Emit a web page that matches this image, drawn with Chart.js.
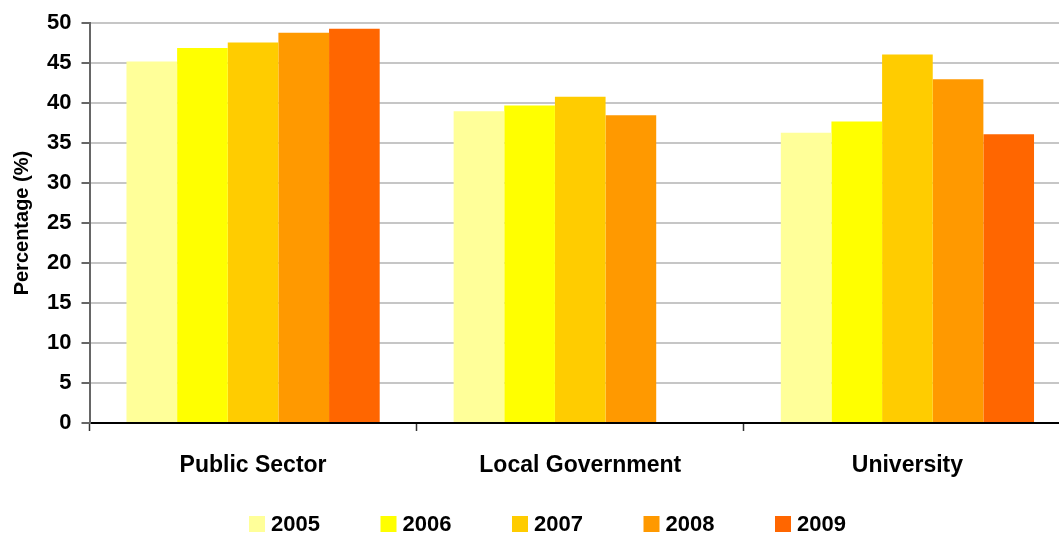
<!DOCTYPE html>
<html>
<head>
<meta charset="utf-8">
<script src="https://cdn.jsdelivr.net/npm/chart.js@4"></script>
<style>
  html, body { margin: 0; padding: 0; background: #fff; overflow: hidden; }
  #wrap { width: 1059px; height: 533px; overflow: hidden; }
</style>
</head>
<body>
<div id="wrap"><canvas id="chart" width="1071" height="533"></canvas></div>
<script>
// data
const categories = ["Public Sector", "Local Government", "University"];
const years = ["2005", "2006", "2007", "2008", "2009"];
const values2005 = [45.2, 39.0, 36.3];
const values2006 = [46.9, 39.7, 37.7];
const values2007 = [47.6, 40.8, 46.1];
const values2008 = [48.8, 38.5, 43.0];
const values2009 = [49.3, null, 36.1];
const yTicks = [0, 5, 10, 15, 20, 25, 30, 35, 40, 45, 50];

const colors = ["#FFFF99", "#FFFF00", "#FFCC00", "#FF9900", "#FF6600"];
const series = [values2005, values2006, values2007, values2008, values2009];
const FONT = "'Liberation Sans', Arial, sans-serif";

/* legend drawn under the axis labels */
const bottomLegend = {
    id: "bottomLegend",
    afterDraw(chart) {
        const ctx = chart.ctx;
        const startX = 249, step = 131.5, y = 524;
        ctx.save();
        ctx.font = "bold 22px " + FONT;
        ctx.textBaseline = "middle";
        ctx.textAlign = "left";
        chart.data.datasets.forEach((ds, i) => {
            const x = startX + i * step;
            ctx.fillStyle = ds.backgroundColor;
            ctx.fillRect(x, y - 8, 16, 16);
            ctx.fillStyle = "#000";
            ctx.fillText(ds.label, x + 22, y + 1);
        });
        ctx.restore();
    }
};

const ctx = document.getElementById("chart").getContext("2d");
new Chart(ctx, {
    type: "bar",
    data: {
        labels: categories,
        datasets: years.map((y, i) => ({
            label: y,
            data: series[i],
            backgroundColor: colors[i],
            borderWidth: 0,
            categoryPercentage: 0.774,
            barPercentage: 1
        }))
    },
    options: {
        responsive: false,
        animation: false,
        devicePixelRatio: 1,
        layout: { padding: { top: 21, right: 0, left: 0, bottom: 0 } },
        plugins: {
            legend: { display: false },
            tooltip: { enabled: false }
        },
        scales: {
            x: {
                afterFit: s => { s.height = 110; },
                grid: {
                    display: true,
                    drawOnChartArea: false,
                    offset: true,
                    tickLength: 8,
                    tickColor: "#333",
                    tickWidth: 1.5
                },
                border: { color: "#000", width: 2 },
                ticks: {
                    color: "#000",
                    font: { family: FONT, size: 23, weight: "bold" },
                    padding: 21,
                    maxRotation: 0
                }
            },
            y: {
                min: 0,
                max: 50,
                afterFit: s => { s.width = 89.5; },
                afterBuildTicks: s => { s.ticks = yTicks.map(v => ({ value: v })); },
                grid: {
                    color: "#c6c6c6",
                    lineWidth: 2,
                    tickLength: 8,
                    tickColor: "#333",
                    tickWidth: 1.5
                },
                border: { color: "#666", width: 2 },
                ticks: {
                    color: "#000",
                    font: { family: FONT, size: 22, weight: "bold" },
                    padding: 10
                },
                title: {
                    display: true,
                    text: "Percentage (%)",
                    color: "#000",
                    font: { family: FONT, size: 20, weight: "bold" },
                    padding: { top: 10, bottom: 0 }
                }
            }
        }
    },
    plugins: [bottomLegend]
});
</script>
</body>
</html>
